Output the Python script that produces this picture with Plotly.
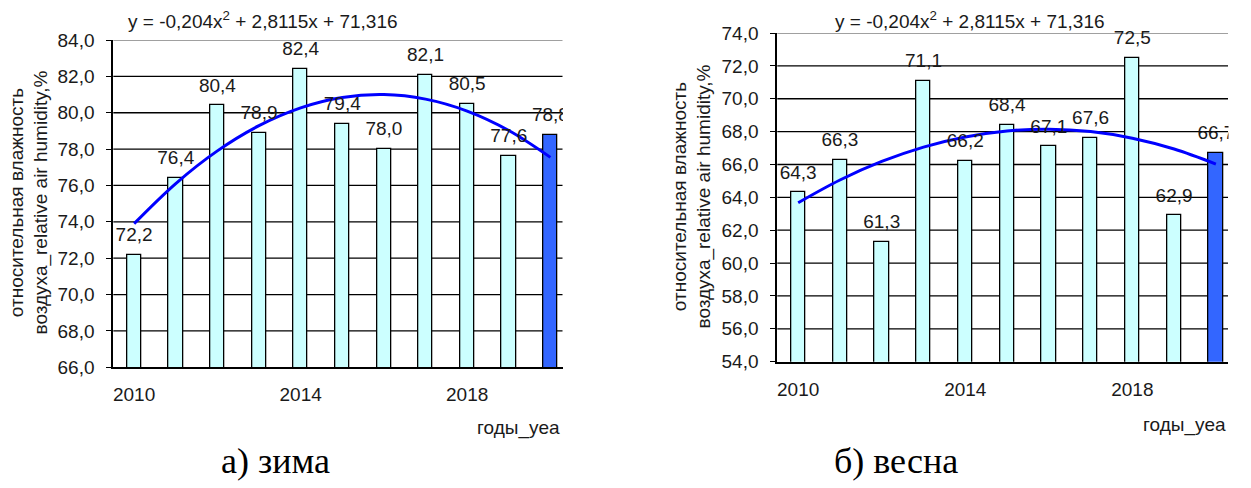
import numpy as np
import plotly.graph_objects as go

# Seasonal relative air humidity, %, by year
years = [2010, 2011, 2012, 2013, 2014, 2015, 2016, 2017, 2018, 2019, 2020]
winter = [72.2, 76.4, 80.4, 78.9, 82.4, 79.4, 78.0, 82.1, 80.5, 77.6, 78.8]
spring = [64.3, 66.3, 61.3, 71.1, 66.2, 68.4, 67.1, 67.6, 72.5, 62.9, 66.7]

year_ticks = [2010, 2014, 2018]
winter_yticks = [66, 68, 70, 72, 74, 76, 78, 80, 82, 84]
spring_yticks = [54, 56, 58, 60, 62, 64, 66, 68, 70, 72, 74]

equation_text = "y = -0,204x<sup>2</sup> + 2,8115x + 71,316"
y_title = "относительная влажность<br>воздуха_relative air humidity,%"
x_title = "годы_yea"
captions = ["а) зима", "б) весна"]

W, H = 1251, 488
FONT = "Liberation Sans, Arial, sans-serif"
TXT = "#1a1a1a"
BAR_FILL = "#CCFFFF"
BAR_LAST = "#3366FF"
TREND = "#0000FF"
X_RANGE = [2009.5, 2020.29]


def fx(p):
    return p / W


def fy(p):
    return 1 - p / H


panels = [
    dict(vals=winter, yticks=winter_yticks, xdom=(113.3, 562.5), ydom=(40, 367.3),
         eq=(263, 20), xt=(562, 428), yt=(29.5, 203), cap=(275, 461), crop=(563, 625)),
    dict(vals=spring, yticks=spring_yticks, xdom=(777.3, 1228), ydom=(33, 361.7),
         eq=(970, 20), xt=(1228, 425), yt=(691.5, 197), cap=(896, 461), crop=(1228.5, 1251)),
]

fig = go.Figure()
annotations = []
shapes = []
n = len(years)
boundaries = [y + 0.5 for y in years[:-1]]

for i, p in enumerate(panels):
    xa, ya = ("x", "y") if i == 0 else ("x2", "y2")
    xkey, ykey = ("xaxis", "yaxis") if i == 0 else ("xaxis2", "yaxis2")
    bkey = "xaxis3" if i == 0 else "xaxis4"
    vals = p["vals"]
    colors = [BAR_FILL] * (n - 1) + [BAR_LAST]
    x0, x1 = p["xdom"]
    y0, y1 = p["ydom"]

    # horizontal grid at each y tick under the bars; the top one is a light frame line
    for t in p["yticks"][1:]:
        top = t == p["yticks"][-1]
        shapes.append(dict(type="line", xref="paper", yref=ya,
                           x0=fx(x0), x1=fx(x1), y0=t, y1=t, layer="below",
                           line=dict(color="#a0a0a0" if top else "black",
                                     width=2 if top else 1.3)))

    fig.add_trace(go.Bar(
        x=years, y=vals, width=0.34,
        marker=dict(color=colors, line=dict(color="black", width=1.3)),
        xaxis=xa, yaxis=ya, hoverinfo="skip", showlegend=False,
    ))

    # quadratic trend fitted on the yearly values
    idx = np.arange(1, n + 1)
    coef = np.polyfit(idx, vals, 2)
    fig.add_trace(go.Scatter(
        x=years, y=np.polyval(coef, idx), mode="lines",
        line=dict(color=TREND, width=3, shape="spline"),
        xaxis=xa, yaxis=ya, hoverinfo="skip", showlegend=False,
    ))

    # value labels above the bars
    fig.add_trace(go.Scatter(
        x=years, y=vals, mode="markers+text",
        text=[f"{v:.1f}".replace(".", ",") for v in vals],
        textposition="top center",
        textfont=dict(family=FONT, size=19, color=TXT),
        marker=dict(size=13, opacity=0),
        cliponaxis=False,
        xaxis=xa, yaxis=ya, hoverinfo="skip", showlegend=False,
    ))

    fig.update_layout(**{
        xkey: dict(
            domain=[fx(x0), fx(x1)], range=X_RANGE, anchor=ya,
            tickmode="array", tickvals=year_ticks, ticktext=[str(t) for t in year_ticks],
            ticks="", ticklabelstandoff=9,
            tickfont=dict(family=FONT, size=19, color=TXT),
            showgrid=False, zeroline=False,
            showline=True, linecolor="black", linewidth=2,
        ),
        # second x axis carrying the short ticks between the bars
        bkey: dict(
            overlaying=xa, anchor=ya, side="bottom", range=X_RANGE,
            tickmode="array", tickvals=boundaries, ticks="inside",
            ticklen=5, tickwidth=1.3, tickcolor="black",
            showticklabels=False, showgrid=False, zeroline=False, showline=False,
        ),
        ykey: dict(
            domain=[fy(y1), fy(y0)], range=[p["yticks"][0], p["yticks"][-1]], anchor=xa,
            tickmode="array", tickvals=p["yticks"], tickformat=".1f",
            ticks="outside", ticklen=5, tickwidth=1.3, tickcolor="black",
            ticklabelstandoff=8,
            tickfont=dict(family=FONT, size=19, color=TXT),
            showgrid=False, zeroline=False,
            showline=True, linecolor="black", linewidth=2,
        ),
    })

    # trim the area right of the plot
    c0, c1 = p["crop"]
    shapes.append(dict(type="rect", xref="paper", yref="paper",
                       x0=fx(c0), x1=fx(c1), y0=0, y1=1, layer="above",
                       fillcolor="white", line=dict(width=0)))

    annotations += [
        dict(text=equation_text, x=fx(p["eq"][0]), y=fy(p["eq"][1]),
             xref="paper", yref="paper", xanchor="center", yanchor="middle",
             showarrow=False, font=dict(family=FONT, size=19, color=TXT)),
        dict(text=x_title, x=fx(p["xt"][0]), y=fy(p["xt"][1]),
             xref="paper", yref="paper", xanchor="right", yanchor="middle",
             showarrow=False, font=dict(family=FONT, size=19, color=TXT)),
        dict(text=y_title, x=fx(p["yt"][0]), y=fy(p["yt"][1]), textangle=-90,
             xref="paper", yref="paper", xanchor="center", yanchor="middle",
             showarrow=False, font=dict(family=FONT, size=19, color=TXT)),
        dict(text=captions[i], x=fx(p["cap"][0]), y=fy(p["cap"][1]),
             xref="paper", yref="paper", xanchor="center", yanchor="middle",
             showarrow=False,
             font=dict(family="Liberation Serif, Times New Roman, serif", size=36, color="black")),
    ]

fig.update_layout(
    width=W, height=H, autosize=False,
    margin=dict(l=0, r=0, t=0, b=0, pad=0, autoexpand=False),
    paper_bgcolor="white", plot_bgcolor="rgba(0,0,0,0)",
    separators=", ",
    bargap=0,
    annotations=annotations,
    shapes=shapes,
    showlegend=False,
)

fig.write_html("out.html", config={"responsive": False})
